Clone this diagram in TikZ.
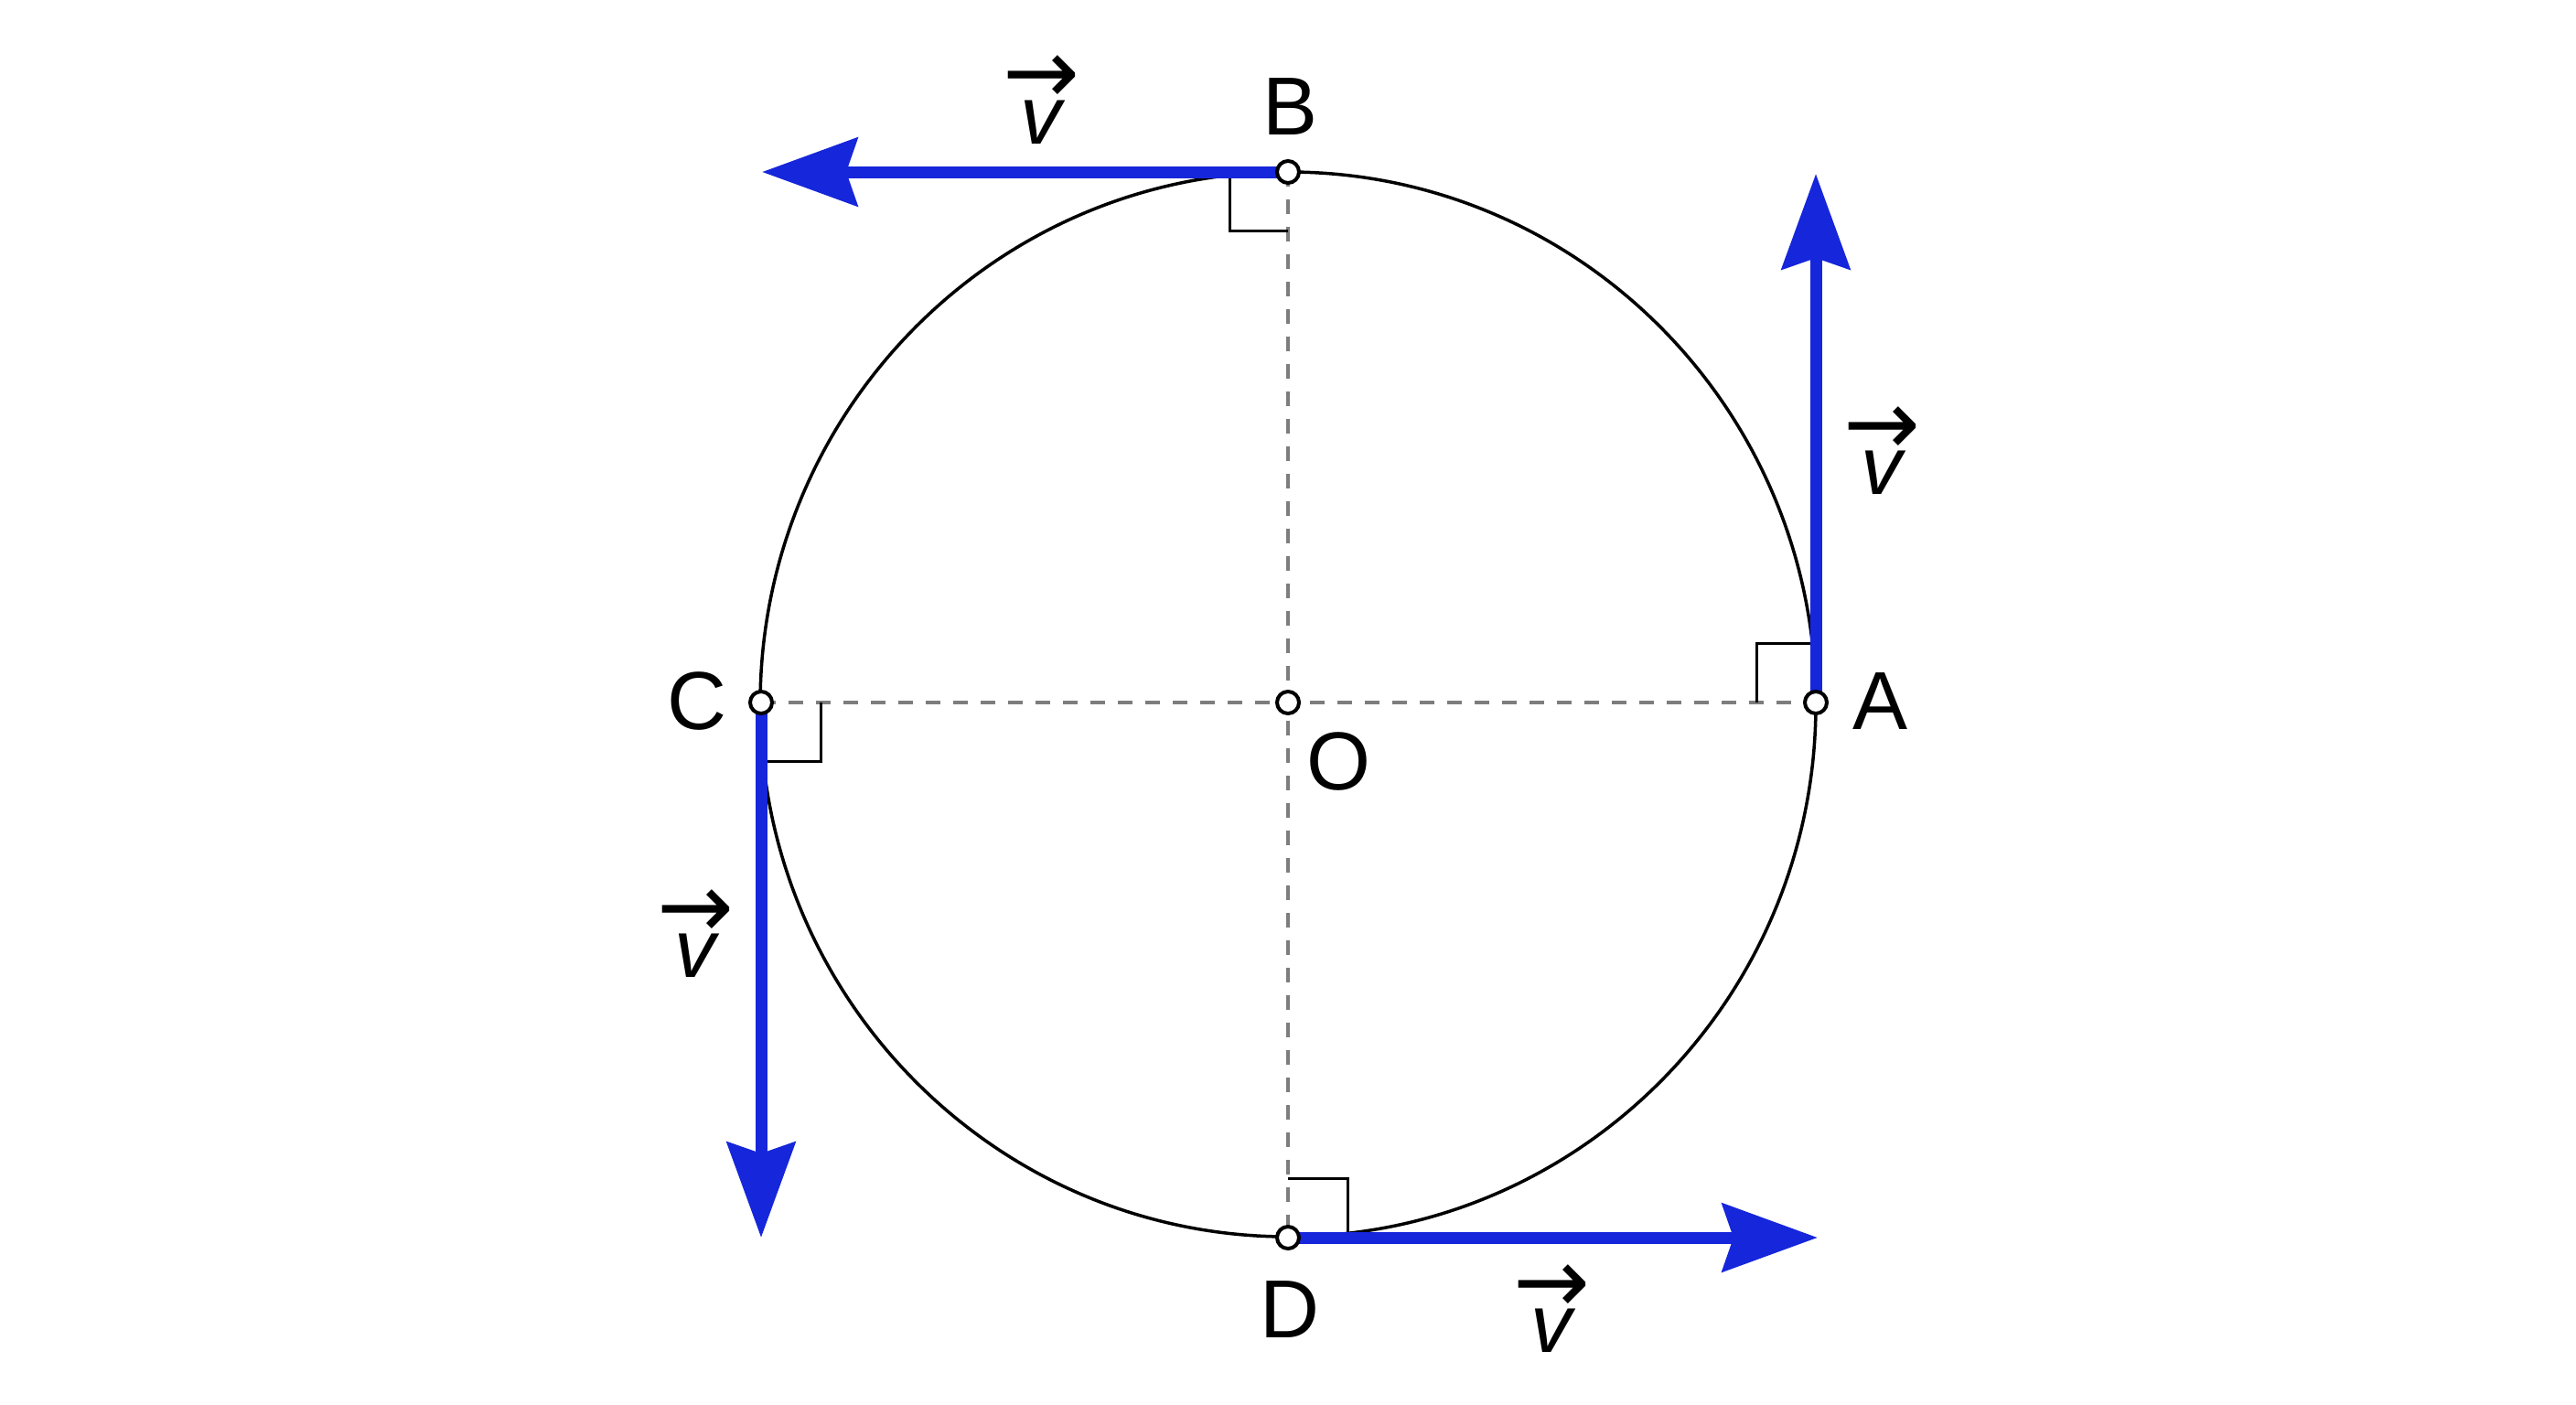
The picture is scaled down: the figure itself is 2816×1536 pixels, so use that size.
\documentclass[tikz,border=0pt]{standalone}
\usepackage{fontspec}
\setmainfont{Liberation Sans}
\newfontfamily\arrowfont{DejaVu Sans}
\usepackage{graphicx}
\usetikzlibrary{arrows.meta}
\definecolor{vblue}{RGB}{22,38,218}
\definecolor{dgray}{RGB}{125,125,125}
\newcommand\vlabel{%
  \setbox0=\hbox{\resizebox{42pt}{!}{\arrowfont →}}%
  \ooalign{\hfil\raisebox{\dimexpr 21.5pt-0.5\ht0+0.5\dp0\relax}{\box0}\hfil\cr
           \hfil\itshape v\hfil\cr}}
\begin{document}
\begin{tikzpicture}[x=0.5pt,y=-0.5pt,
  font=\fontsize{45}{54}\selectfont,
  circ/.style={line width=1.75pt},
  rightmark/.style={line width=1.5pt},
  dashline/.style={dgray, line width=2pt, dash pattern=on 8pt off 7pt},
  vel/.style={vblue, line width=6.5pt, -{Stealth[length=52pt,width=37pt,inset=6pt]}},
  pnt/.style={circle, draw=black, fill=white, line width=2pt, minimum size=12pt, inner sep=0pt},
  lab/.style={inner sep=0pt},
  vlab/.style={inner sep=0pt, anchor=base}]
\fill[white] (0,0) rectangle (2816,1536);
\useasboundingbox (0,0) rectangle (2816,1536);
% points
\coordinate (O) at (1408,768);
\coordinate (A) at (1985,768);
\coordinate (B) at (1408,188);
\coordinate (C) at (832,768);
\coordinate (D) at (1408,1353);
% arrow tips
\coordinate (tA) at (1985,190);
\coordinate (tB) at (833,188);
\coordinate (tC) at (832,1353);
\coordinate (tD) at (1987,1353);
% dashed diameters
\draw[dashline] (C) -- (A);
\draw[dashline] (B) -- (D);
% circle
\draw[circ] (1408,770) ellipse [x radius=577, y radius=582];
% right angle marks
\draw[rightmark] (1344,190) -- (1344,252) -- (1408,252);
\draw[rightmark] (1920,768) -- (1920,703) -- (1983,703);
\draw[rightmark] (897,768) -- (897,832) -- (834,832);
\draw[rightmark] (1408,1288) -- (1473,1288) -- (1473,1351);
% velocity vectors
\draw[vel] (A) -- (tA);
\draw[vel] (B) -- (tB);
\draw[vel] (C) -- (tC);
\draw[vel] (D) -- (tD);
% point markers
\node[pnt] (pO) at (O) {};
\node[pnt] (pA) at (A) {};
\node[pnt] (pB) at (B) {};
\node[pnt] (pC) at (C) {};
\node[pnt] (pD) at (D) {};
% letters
\node[lab] (lA) at (2055,767) {A};
\node[lab] (lB) at (1410,117) {B};
\node[lab] (lC) at (762,767) {C};
\node[lab] (lD) at (1410,1432) {D};
\node[lab] (lO) at (1463,833) {O};
% vector labels
\node[vlab] (vA) at (2057,540) {\vlabel};
\node[vlab] (vB) at (1138,157) {\vlabel};
\node[vlab] (vC) at (760,1068) {\vlabel};
\node[vlab] (vD) at (1696,1478) {\vlabel};
\end{tikzpicture}
\end{document}
